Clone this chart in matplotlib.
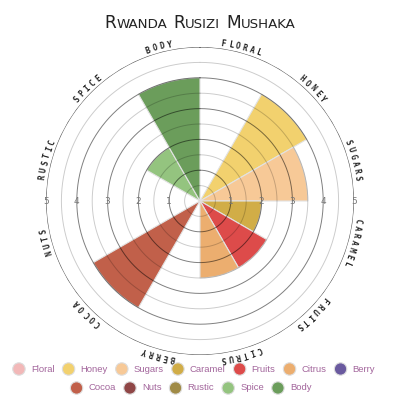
import numpy as np
import matplotlib
matplotlib.use('Agg')
import matplotlib.pyplot as plt
from matplotlib.patches import Circle

title = "Rwanda Rusizi Mushaka"
categories = ['Floral', 'Honey', 'Sugars', 'Caramel', 'Fruits', 'Citrus', 'Berry',
              'Cocoa', 'Nuts', 'Rustic', 'Spice', 'Body']
scores = [0, 4, 3.5, 2, 2.5, 2.5, 0, 4, 0, 0, 2, 4]
colors = ['#f2b8b8', '#f2d16e', '#f7c997', '#d1ad47', '#dd4b4a', '#ecae6f', '#6a5a9f',
          '#c1604a', '#8f4646', '#a08b46', '#94c47f', '#6b9d5b']
ticks = [1, 2, 3, 4, 5]
legend_rows = [categories[:7], categories[7:]]

fig = plt.figure(figsize=(4, 4), dpi=100)
fig.patch.set_facecolor('white')

# polar part, centre at (200, 201) px, r=5 -> 154 px
ax = fig.add_axes([0.115, 0.1125, 0.77, 0.77], projection='polar')
ax.set_theta_zero_location('N')
ax.set_theta_direction(-1)
ax.set_ylim(0, 5)
ax.set_axis_off()

n = len(categories)
width = 2 * np.pi / n
theta = np.arange(n) * width + width / 2
ax.bar(theta, scores, width=width, color=colors, edgecolor='#e2e2e2',
       linewidth=0.8, zorder=2)

# rings on top of the bars
tt = np.linspace(0, 2 * np.pi, 721)
for r in np.arange(0.5, 5.01, 0.5):
    if r == 5:
        ax.plot(tt, np.full_like(tt, r), color='#555555', lw=0.8, zorder=3)
    elif r % 1 == 0:
        ax.plot(tt, np.full_like(tt, r), color='black', alpha=0.5, lw=0.7, zorder=3)
    else:
        ax.plot(tt, np.full_like(tt, r), color='black', alpha=0.2, lw=0.7, zorder=3)

for k in ticks:
    for side in (np.pi / 2, 3 * np.pi / 2):
        ax.text(side, k, str(k), fontsize=6.5, color='#777777', ha='center',
                va='center', zorder=4)

# curved category labels
step = 0.046
for i, name in enumerate(categories):
    word = name.upper()
    m = len(word)
    for j, ch in enumerate(word):
        a = theta[i] + (j - (m - 1) / 2) * step
        ax.text(a, 5.17, ch, fontsize=5.8, color='#222222', ha='center', va='center',
                rotation=-np.degrees(a), rotation_mode='anchor', clip_on=False,
                family='DejaVu Sans Mono', fontweight='bold')

# overlay in pixel coordinates for title and legend
ov = fig.add_axes([0, 0, 1, 1])
ov.set_xlim(0, 400)
ov.set_ylim(400, 0)
ov.set_axis_off()
ov.patch.set_alpha(0)
renderer = fig.canvas.get_renderer()


def text_width(t):
    return t.get_window_extent(renderer=renderer).width


# small caps title
big, small = 12.3, 9.6
words = title.split()
objs = []
gap = 6
total = 0
for w in words:
    parts = [(w[0].upper(), big), (w[1:].upper(), small)]
    for s, size in parts:
        t = ov.text(0, 28.5, s, fontsize=size, color='#222222', ha='left',
                    va='baseline')
        wd = text_width(t)
        objs.append((t, wd))
        total += wd
    total += gap
total -= gap
x = 200 - total / 2
for idx, (t, wd) in enumerate(objs):
    t.set_x(x)
    x += wd
    if idx % 2 == 1:
        x += gap

# legend rows
text_col = '#a3669c'
for row, ypos, mid in zip(legend_rows, [369, 388], [194, 191]):
    items = []
    span = 0
    for name in row:
        t = ov.text(0, ypos, name, fontsize=6.8, color=text_col, ha='left',
                    va='center', family='Liberation Sans')
        wd = text_width(t)
        items.append((name, t, wd))
        span += 6 + 12 + wd + 8
    span -= 8
    x = mid - span / 2
    for name, t, wd in items:
        cxp = x + 6
        ov.add_patch(Circle((cxp, ypos), 6.2, facecolor=colors[categories.index(name)],
                            edgecolor='#dddddd', lw=0.8))
        t.set_x(cxp + 12)
        x = cxp + 12 + wd + 8

fig.savefig('out.png', dpi=100)
